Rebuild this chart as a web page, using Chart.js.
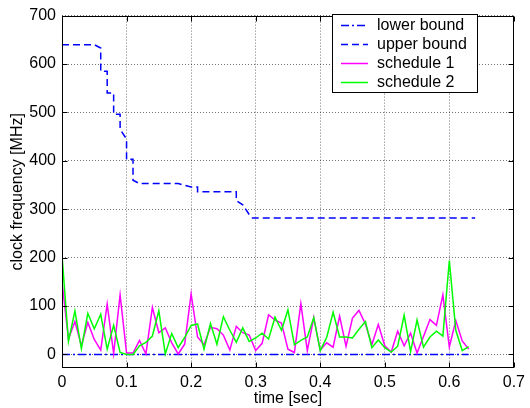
<!DOCTYPE html>
<html><head><meta charset="utf-8">
<script src="https://cdn.jsdelivr.net/npm/chart.js@4.4.0/dist/chart.umd.min.js"></script>
<style>html,body{margin:0;padding:0;background:#fff;}#wrap{position:relative;width:530px;height:408px;}</style>
</head><body><div id="wrap"><canvas id="c" width="530" height="408"></canvas></div>
<script>
const times = [0.00,0.01,0.02,0.03,0.04,0.05,0.06,0.07,0.08,0.09,0.10,0.11,0.12,0.13,0.14,0.15,0.16,0.17,0.18,0.19,0.20,0.21,0.22,0.23,0.24,0.25,0.26,0.27,0.28,0.29,0.30,0.31,0.32,0.33,0.34,0.35,0.36,0.37,0.38,0.39,0.40,0.41,0.42,0.43,0.44,0.45,0.46,0.47,0.48,0.49,0.50,0.51,0.52,0.53,0.54,0.55,0.56,0.57,0.58,0.59,0.60,0.61,0.62,0.63];
const schedule1 = [150,32,68,18,66,31,9,104,2,123,3,3,29,1,97,45,55,24,1,21,125,36,20,56,53,40,9,58,45,40,8,23,82,71,65,11,4,105,8,76,9,24,15,79,17,75,91,63,20,62,18,5,48,18,44,3,37,72,60,123,15,70,28,11];
const schedule2 = [205,27,90,12,85,53,83,11,60,4,0,0,18,25,38,90,1,43,14,35,60,63,11,64,21,78,50,25,55,27,34,44,32,77,50,92,20,29,36,76,8,35,87,36,36,34,52,68,14,30,14,5,17,81,6,71,15,36,48,38,194,50,8,16];
const upperTimes = [0,0.05,0.06,0.06,0.07,0.07,0.08,0.08,0.09,0.09,0.10,0.10,0.11,0.11,0.12,0.18,0.20,0.21,0.21,0.27,0.27,0.28,0.29,0.295,0.64];
const upperValues = [640,640,633,585,585,540,540,496,496,465,445,403,403,360,353,353,346,346,336,336,318,309,289,282,282];
const lowerTimes = [0,0.63];
const lowerValues = [0,0];
const xTicks = [0,0.1,0.2,0.3,0.4,0.5,0.6,0.7];
const xTickLabels = ['0','0.1','0.2','0.3','0.4','0.5','0.6','0.7'];
const yTicks = [0,100,200,300,400,500,600,700];
const yTickLabels = ['0','100','200','300','400','500','600','700'];
const seriesNames = ['lower bound','upper bound','schedule 1','schedule 2'];
const seriesColors = ['#0000ff','#0000ff','#ff00ff','#00ff00'];
const seriesDashes = [[8,3,2,3],[7,4],[],[]];

const FONT = 'Liberation Sans, Arial, Helvetica, sans-serif';
const pts = (xs, ys) => xs.map((x,i)=>({x:x,y:ys[i]}));

const framePlugin = {
  id:'frame',
  afterDatasetsDraw(chart){
    const ctx = chart.ctx, a = chart.chartArea;
    const xs = chart.scales.x, ys = chart.scales.y;
    ctx.save();
    ctx.strokeStyle = '#000'; ctx.lineWidth = 1; ctx.setLineDash([]);
    const L = Math.round(a.left)+0.5, R = Math.round(a.right)-0.5, T = Math.round(a.top)+0.5, B = Math.round(a.bottom)-0.5;
    ctx.strokeRect(L, T, R-L, B-T);
    const tl = 5;
    ctx.beginPath();
    xTicks.forEach(v=>{ const px = Math.round(xs.getPixelForValue(v))+0.5;
      ctx.moveTo(px,B); ctx.lineTo(px,B-tl); ctx.moveTo(px,T); ctx.lineTo(px,T+tl); });
    yTicks.forEach(v=>{ const py = Math.round(ys.getPixelForValue(v))+0.5;
      ctx.moveTo(L,py); ctx.lineTo(L+tl,py); ctx.moveTo(R,py); ctx.lineTo(R-tl,py); });
    ctx.stroke();
    // legend
    const bx = 332.5, by = 14.5, bw = 145, bh = 78;
    ctx.fillStyle = '#fff'; ctx.fillRect(bx,by,bw,bh);
    ctx.strokeStyle = '#000'; ctx.lineWidth = 1; ctx.strokeRect(bx,by,bw,bh);
    ctx.font = '16px ' + FONT; ctx.textBaseline = 'middle'; ctx.textAlign = 'left';
    const rows = [25,44,63,82];
    seriesNames.forEach((name,i)=>{
      const y = rows[i]+0.5;
      ctx.strokeStyle = seriesColors[i]; ctx.lineWidth = 1.5; ctx.setLineDash(seriesDashes[i]);
      ctx.beginPath(); ctx.moveTo(341,y); ctx.lineTo(368,y); ctx.stroke();
      ctx.setLineDash([]);
      ctx.fillStyle = '#000'; ctx.fillText(name, 377, rows[i]+1);
    });
    ctx.restore();
  }
};

new Chart(document.getElementById('c'), {
  type:'line',
  data:{ datasets:[
    {label:seriesNames[0], data:pts(lowerTimes,lowerValues), borderColor:seriesColors[0], borderWidth:1.5, borderDash:seriesDashes[0], pointRadius:0, order:3},
    {label:seriesNames[1], data:pts(upperTimes,upperValues), borderColor:seriesColors[1], borderWidth:1.5, borderDash:seriesDashes[1], pointRadius:0, order:2},
    {label:seriesNames[2], data:pts(times,schedule1), borderColor:seriesColors[2], borderWidth:1.5, pointRadius:0, order:1},
    {label:seriesNames[3], data:pts(times,schedule2), borderColor:seriesColors[3], borderWidth:1.5, pointRadius:0, order:0}
  ]},
  options:{
    responsive:false, animation:false, devicePixelRatio:1,
    layout:{padding:{top:8,right:10,left:0,bottom:0}},
    plugins:{legend:{display:false}, tooltip:{enabled:false}},
    elements:{line:{tension:0, fill:false}},
    scales:{
      x:{type:'linear', min:0, max:0.7,
        afterBuildTicks:s=>{s.ticks = xTicks.map(v=>({value:v}));},
        afterFit:s=>{s.height = 40;},
        ticks:{callback:(v,i)=>xTickLabels[i], color:'#000', font:{family:FONT,size:16}, padding:5, maxRotation:0, autoSkip:false},
        grid:{color:'rgba(0,0,0,0.55)', lineWidth:1, drawTicks:false},
        border:{display:false, dash:[1,2]},
        title:{display:true, text:'time [sec]', color:'#000', font:{family:FONT,size:16}, padding:{top:0,bottom:0}}
      },
      y:{type:'linear', min:-28, max:700,
        afterBuildTicks:s=>{s.ticks = yTicks.map(v=>({value:v}));},
        afterFit:s=>{s.width = 62;},
        ticks:{callback:(v,i)=>yTickLabels[i], color:'#000', font:{family:FONT,size:16}, padding:6, autoSkip:false},
        grid:{color:'rgba(0,0,0,0.55)', lineWidth:1, drawTicks:false},
        border:{display:false, dash:[1,2]},
        title:{display:true, text:'clock frequency [MHz]', color:'#000', font:{family:FONT,size:16}, padding:{top:8,bottom:0}}
      }
    }
  },
  plugins:[framePlugin]
});
</script></body></html>
